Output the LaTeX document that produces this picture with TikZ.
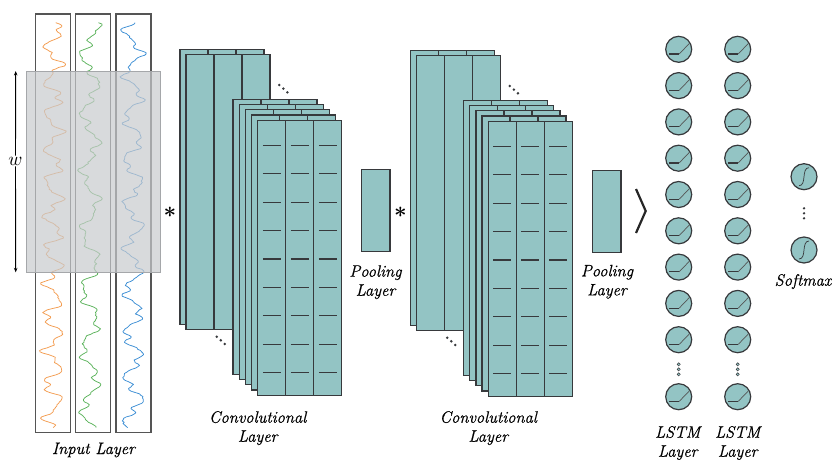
\documentclass[tikz,border=0pt]{standalone}
\usepackage{fontspec}
\newfontfamily\lblfont{Latin Modern Roman}[FakeBold=0.6]
\usetikzlibrary{arrows.meta}
\definecolor{cnnfill}{RGB}{147,196,196}
\definecolor{cnnline}{RGB}{55,57,60}
\definecolor{sigor}{RGB}{243,156,80}
\definecolor{siggr}{RGB}{90,178,90}
\definecolor{sigbl}{RGB}{60,142,212}
\definecolor{boxline}{RGB}{85,85,85}
\definecolor{winfill}{RGB}{200,202,205}
\definecolor{winline}{RGB}{165,167,170}
\newcommand\cnnblock[2]{%
  \filldraw[blk] (#1,#2) rectangle ++(84,275);
  \draw[blk] ({#1+28},#2) -- ++(0,275) ({#1+56},#2) -- ++(0,275);}
\newcommand\cnnstack[2]{%
  \begin{scope}[shift={(#1,#2)}]
    \cnnblock{180}{49.3}
    \cnnblock{186}{54.7}
    \foreach \i in {0,...,4} {\cnnblock{233+6.2*\i}{99.3+5.25*\i}}
    \foreach \j in {0,...,8} {\foreach \k in {0,1,2} {%
      \draw[dashmark] ({257.8+28*\k+5},{145.3+28.4*\j}) -- ++(18,0);}}
    \foreach \p in {(279.3,85),(283.4,88.6),(287.4,92.3),(216.7,336.7),(220.8,340.3),(224.8,344)}
      {\fill[cnnline] \p circle (1.4);}
  \end{scope}}
\begin{document}
\begin{tikzpicture}[x=1pt,y=-1pt,
  blk/.style={fill=cnnfill, draw=cnnline, line width=1.3pt},
  dashmark/.style={draw=cnnline, line width=1.2pt},
  sigbox/.style={draw=boxline, line width=1.3pt},
  sig/.style={line width=0.75pt, line join=round},
  lbl/.style={font=\lblfont\fontsize{16.5}{19}\selectfont\itshape, align=center, inner sep=0pt},
  unit/.style={circle, fill=cnnfill, draw=cnnline, line width=1.2pt, minimum size=26pt, inner sep=0pt},
  pool/.style={rectangle, fill=cnnfill, draw=cnnline, line width=1.3pt, inner sep=0pt},
  smalldot/.style={circle, fill=cnnfill, draw=cnnline, line width=0.5pt, minimum size=3.2pt, inner sep=0pt}
]
\useasboundingbox (0,0) rectangle (832,459);

% ---- Input layer ----
\draw[sigbox] (35.3,14) rectangle (70.3,432.7);
\draw[sigbox] (75.3,14) rectangle (110.3,432.7);
\draw[sigbox] (116,14) rectangle (151,432.7);
\pgfmathsetseed{7}
\draw[sig, sigor] plot[domain=0:405, samples=300, variable=\t]
  ({53 + 8*sin(10.7*\t) + 3.5*sin(27*\t+40) + 1.8*sin(37*\t+10) + 0.9*rand}, {22.7+\t});
\draw[sig, siggr] plot[domain=0:405, samples=300, variable=\t]
  ({90 + 7.5*sin(6.1*\t+70) + 3.5*sin(19*\t+10) + 2*sin(33*\t+50) + 0.9*rand}, {22.7+\t});
\draw[sig, sigbl] plot[domain=0:405, samples=300, variable=\t]
  ({133 + 8*sin(8.3*\t+200) + 3.5*sin(23*\t+80) + 2*sin(38*\t+20) + 0.9*rand}, {22.7+\t});
\filldraw[fill=winfill, fill opacity=0.7, draw=winline, line width=0.8pt] (26,71) rectangle (160.7,272.3);

\coordinate (wt) at (15.7,71);
\coordinate (wb) at (15.7,272.3);
\node[fill=white, inner sep=1pt] (w) at (15.5,161) {\scalebox{1.9}{$w$}};
\draw[-{Stealth[length=4.5pt,width=3.5pt]}, line width=0.9pt] (w) -- (wt);
\draw[-{Stealth[length=4.5pt,width=3.5pt]}, line width=0.9pt] (w) -- (wb);

\node[lbl, anchor=base] (inlbl) at (93.5,454) {Input Layer};

% ---- operators ----
\node[inner sep=0pt] (star1) at (170,212) {\scalebox{2.2}{\boldmath$\ast$}};
\node[inner sep=0pt] (star2) at (400.5,212.5) {\scalebox{2.2}{\boldmath$\ast$}};

% ---- Conv layers ----
\cnnstack{0}{0}
\cnnstack{230.5}{1}
\node[lbl, anchor=base] (conv1) at (257.7,441.7) {Convolutional\\Layer};
\node[lbl, anchor=base] (conv2) at (488.3,441.7) {Convolutional\\Layer};

% ---- Pooling ----
\node[pool, minimum width=28.7pt, minimum height=81.6pt] (pool1) at (375.65,210.5) {};
\node[pool, minimum width=28.3pt, minimum height=81.6pt] (pool2) at (606.85,211.5) {};
\node[lbl, anchor=base] (pl1) at (375.5,295.7) {Pooling\\Layer};
\node[lbl, anchor=base] (pl2) at (607,295.3) {Pooling\\Layer};

% ---- chevron ----
\draw[line width=2.2pt, black!85, miter limit=20] (636,189) -- (645.7,211) -- (636,233);

% ---- LSTM layers ----
\foreach \c/\xx in {a/678.7, b/737.7} {
  \foreach \i in {1,...,9} {
    \node[unit] (\c\i) at (\xx,{49.3+36.3*(\i-1)}) {};
    \draw[line width=1.2pt, cnnline] ([shift={(-9.5,4.7)}]\c\i.center) -- ([shift={(0.5,4.7)}]\c\i.center);
    \draw[line width=0.7pt, boxline] ([shift={(0.5,4.7)}]\c\i.center) -- ([shift={(10.8,-6)}]\c\i.center);
  }
  \node[unit] (\c10) at (\xx,396.7) {};
  \draw[line width=1.2pt, cnnline] ([shift={(-9.5,4.7)}]\c10.center) -- ([shift={(0.5,4.7)}]\c10.center);
  \draw[line width=0.7pt, boxline] ([shift={(0.5,4.7)}]\c10.center) -- ([shift={(10.8,-6)}]\c10.center);
  \node[smalldot] (\c d1) at (\xx,364.3) {};
  \node[smalldot] (\c d2) at (\xx,369.3) {};
  \node[smalldot] (\c d3) at (\xx,374.3) {};
}
\node[lbl, anchor=base] (lstm1) at (677.7,456.7) {LSTM\\Layer};
\node[lbl, anchor=base] (lstm2) at (737.7,456.7) {LSTM\\Layer};

% ---- Softmax ----
\node[unit] (s1) at (804,176.7) {};
\node[unit] (s2) at (804,250) {};
\foreach \s in {s1,s2} {
  \draw[line width=0.7pt, cnnline] ([shift={(-5,9)}]\s.center) .. controls ([shift={(3,9)}]\s.center) and ([shift={(-3,-9)}]\s.center) .. ([shift={(5,-9)}]\s.center);
}
\foreach \yy/\n in {208.3/1, 213.3/2, 218.3/3} {\fill[cnnline] (804,\yy) circle (1.3) coordinate (sd\n);}
\node[lbl, anchor=base] (smx) at (803,285.7) {Softmax};
\end{tikzpicture}
\end{document}
